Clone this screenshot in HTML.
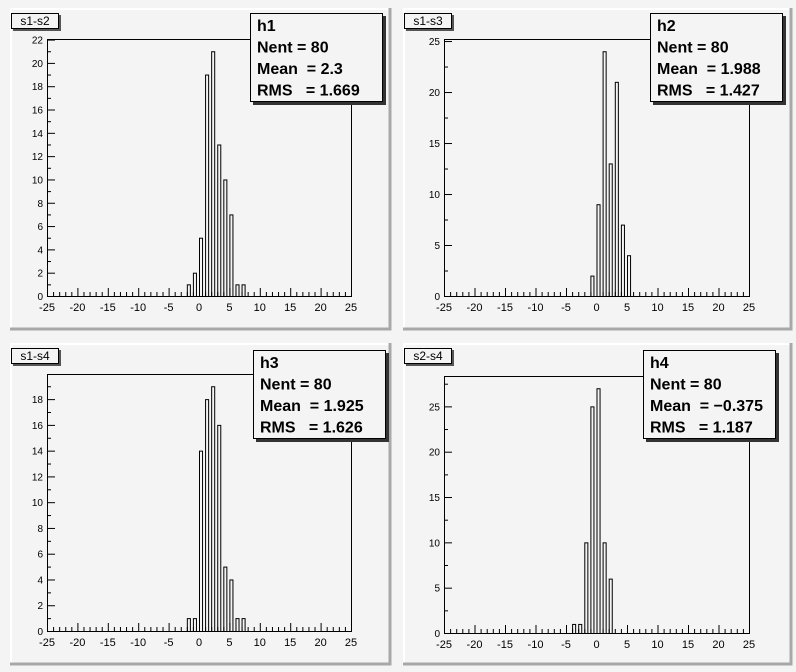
<!DOCTYPE html>
<html><head><meta charset="utf-8"><style>
body{margin:0;background:#f4f4f4;}
svg{display:block;font-family:"Liberation Sans",Arial,sans-serif;}
</style></head><body>
<svg id="c" width="796" height="672" xmlns="http://www.w3.org/2000/svg">
<rect width="796" height="672" fill="#f4f4f4"/>
</svg>
<script>
const binsH1=[-2,-1,0,1,2,3,4,5,6,7];
const valsH1=[1,2,5,19,21,13,10,7,1,1];
const binsH2=[-1,0,1,2,3,4,5];
const valsH2=[2,9,24,13,21,7,4];
const binsH3=[-2,-1,0,1,2,3,4,5,6,7];
const valsH3=[1,1,14,18,19,16,5,4,1,1];
const binsH4=[-4,-3,-2,-1,0,1,2];
const valsH4=[1,1,10,25,27,10,6];
const xTicks=[-25,-20,-15,-10,-5,0,5,10,15,20,25];
const titles=["s1-s2","s1-s3","s1-s4","s2-s4"];
const names=["h1","h2","h3","h4"];
const means=["2.3","1.988","1.925","-0.375"];
const rmss=["1.669","1.427","1.626","1.187"];
const yStep=[2,5,2,5];
const NS="http://www.w3.org/2000/svg";
const svg=document.getElementById('c');
function mk(tag,attrs,parent){const e=document.createElementNS(NS,tag);for(const k in attrs)e.setAttribute(k,attrs[k]);(parent||svg).appendChild(e);return e;}
const pads=[{x:10,y:8,w:381,h:322,fx:47,fy:39,fw:304,fh:257,sx:250,sy:13},
 {x:403,y:8,w:389,h:322,fx:444,fy:39,fw:305,fh:257,sx:650,sy:13},
 {x:10,y:343,w:381,h:322,fx:47,fy:374,fw:304,fh:257,sx:253,sy:350},
 {x:403,y:343,w:389,h:322,fx:444,fy:376,fw:305,fh:257,sx:643,sy:350}];
const data=[[binsH1,valsH1],[binsH2,valsH2],[binsH3,valsH3],[binsH4,valsH4]];
pads.forEach((p,i)=>{
 const g=mk('g',{});
 
 
 mk('rect',{x:p.x,y:p.y,width:p.w,height:p.h,fill:'#f4f4f4'},g);
 mk('path',{d:`M${p.x+1} ${p.y+p.h} V${p.y+1} H${p.x+p.w}`,stroke:'#ffffff',"stroke-width":2,fill:'none'},g);
 mk('path',{d:`M${p.x} ${p.y+p.h-1} H${p.x+p.w-1} V${p.y}`,stroke:'#a8a8a8',"stroke-width":3,fill:'none'},g);
 const [bins,vals]=data[i];
 const ymax=Math.max(...vals)*1.05;
 const X=v=>p.fx+(v+25)/50*p.fw;
 const Y=v=>p.fy+p.fh-v/ymax*p.fh;
 // bars
 bins.forEach((b,j)=>{
  const r=mk('rect',{x:X(b)+0.5,y:Y(vals[j])+0.5,width:X(b+0.5)-X(b),height:Y(0)-Y(vals[j]),fill:'none',stroke:'#000','stroke-width':1},g);
  
  
 });
 // frame
 mk('rect',{x:p.fx+0.5,y:p.fy+0.5,width:p.fw,height:p.fh,fill:'none',stroke:'#000'},g);
 // x ticks
 for(let v=-25;v<=25;v++){
  const len=v%5===0?8:4;
  mk('line',{x1:X(v)+0.5,x2:X(v)+0.5,y1:p.fy+p.fh,y2:p.fy+p.fh-len,stroke:'#000'},g);
 }
 xTicks.forEach(v=>{
  const t=mk('text',{x:X(v),y:p.fy+p.fh+15,'font-size':11,'text-anchor':'middle'},g);
  t.textContent=v;
  
  
 });
 const st=yStep[i];
 for(let v=0;v<=ymax;v+=st/2){
  const major=Math.abs(v%st)<1e-9;
  mk('line',{x1:p.fx,x2:p.fx+(major?8:4),y1:Y(v)+0.5,y2:Y(v)+0.5,stroke:'#000'},g);
  if(major){
   const t=mk('text',{x:p.fx-4,y:Y(v)+4,'font-size':10,'text-anchor':'end'},g);
   t.textContent=v;
   
   
  }
 }
 // title box
 const tb=mk('g',{},g);
 
 
 mk('rect',{x:p.x+3,y:p.y+7,width:48,height:16,fill:'#555'},tb);
 mk('rect',{x:p.x+1.5,y:p.y+5.5,width:47,height:15,fill:'#f4f4f4',stroke:'#000'},tb);
 const tt=mk('text',{x:p.x+25,y:p.y+17,'font-size':12,'text-anchor':'middle'},tb);
 tt.textContent=titles[i];
 // stats box
 const sb=mk('g',{},g);
 
 
 mk('rect',{x:p.sx+3,y:p.sy+3,width:133,height:89,fill:'#333'},sb);
 mk('rect',{x:p.sx+0.5,y:p.sy+0.5,width:132,height:88,fill:'#f4f4f4',stroke:'#000'},sb);
 const lines=[names[i],'Nent = 80','Mean  = '+(means[i].startsWith('-')?'\u2212'+means[i].slice(1):means[i]),'RMS   = '+rmss[i]];
 lines.forEach((s,k)=>{
  const t=mk('text',{x:p.sx+7,y:p.sy+18+k*21.5,'font-size':16,'font-weight':'bold','xml:space':'preserve'},sb);
  t.setAttribute('style','white-space:pre');
  t.textContent=s;
 });
});
</script>
</body></html>
